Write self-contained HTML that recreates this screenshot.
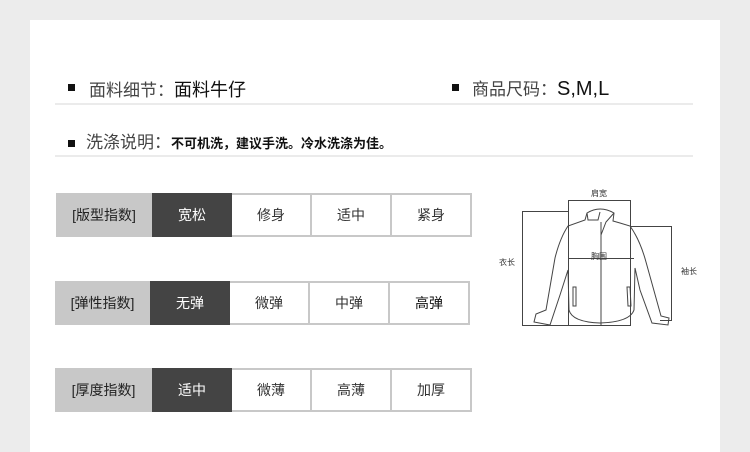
<!DOCTYPE html>
<html><head><meta charset="utf-8"><style>
body{margin:0;width:750px;height:452px;background:#ececec;overflow:hidden;font-family:"Liberation Sans","Noto Sans CJK SC",sans-serif;}
.panel{position:absolute;left:30px;top:20px;width:690px;height:432px;background:#fff;}
.a{position:absolute;white-space:nowrap;}
.sq{position:absolute;width:7px;height:7px;background:#111;}
.hr{position:absolute;left:55px;width:638px;height:2px;background:#ebebeb;}
.row{position:absolute;height:44px;display:flex;}
.row div{box-sizing:border-box;height:44px;display:flex;align-items:center;justify-content:center;font-size:14px;color:#333;}
.lb{background:#c8c8c8;width:96px;color:#222!important;}
.dk{background:#444;color:#fff!important;width:80px;}
.c{width:80px;border:2px solid #c8c8c8;border-left:none;background:#fff;}
.row .c:last-child{}
</style></head><body>
<div class="panel"></div>
<div class="sq" style="left:68px;top:84px"></div>
<div class="a" style="left:89px;top:76px;font-size:17px;color:#444">面料细节：<span style="color:#111;font-size:18px">面料牛仔</span></div>
<div class="sq" style="left:452px;top:84px"></div>
<div class="a" style="left:472px;top:75px;font-size:17px;color:#444">商品尺码：<span style="color:#111;font-size:20px">S,M,L</span></div>
<div class="hr" style="top:103px"></div>
<div class="sq" style="left:68px;top:140px"></div>
<div class="a" style="left:86px;top:128px;font-size:17px;color:#444">洗涤说明：<span style="color:#111;font-size:13px;font-weight:bold">不可机洗，建议手洗。冷水洗涤为佳。</span></div>
<div class="hr" style="top:155px"></div>

<div class="row" style="left:56px;top:193px"><div class="lb">[版型指数]</div><div class="dk">宽松</div><div class="c">修身</div><div class="c">适中</div><div class="c">紧身</div></div>
<div class="row" style="left:55px;top:281px"><div class="lb" style="width:95px">[弹性指数]</div><div class="dk">无弹</div><div class="c">微弹</div><div class="c">中弹</div><div class="c" style="color:#111">高弹</div></div>
<div class="row" style="left:55px;top:368px"><div class="lb" style="width:97px">[厚度指数]</div><div class="dk">适中</div><div class="c">微薄</div><div class="c">高薄</div><div class="c">加厚</div></div>

<svg style="position:absolute;left:0;top:0" width="750" height="452" fill="none" stroke="#444" stroke-width="1">
<rect x="568.5" y="200.5" width="62" height="125"/>
<rect x="522.5" y="211.5" width="46" height="114"/>
<polyline points="630.5,226.5 671.5,226.5 671.5,320.5 660,320.5"/>
<line x1="568" y1="258.5" x2="634" y2="258.5"/>
<path d="M587,213 Q600,205 614,213 L613,221 L620,223 L630,226 Q640,240 646,262 L661,316 L669,318 L668,325 L652,323 L640,290 L635,268 L634,310 Q630,322 600,323 Q572,322 569,310 L568,270 L560,295 L550,325 L534,322 L536,314 L546,310 L555,258 Q560,238 568,226 L585,220 L587,213Z"/>
<path d="M587,213 L588,220 L598,220 L600,212 M614,213 L606,222 L601,235"/>
<line x1="601" y1="222" x2="601" y2="325"/>
<path d="M573,287 L576,287 L576,306 L573,306Z M627,287 L630,287 L631,306 L628,306Z"/>
</svg>
<div class="a" style="left:591px;top:188px;font-size:8px;color:#333">肩宽</div>
<div class="a" style="left:499px;top:257px;font-size:8px;color:#333">衣长</div>
<div class="a" style="left:591px;top:251px;font-size:8px;color:#333">胸围</div>
<div class="a" style="left:681px;top:266px;font-size:8px;color:#333">袖长</div>
</body></html>
